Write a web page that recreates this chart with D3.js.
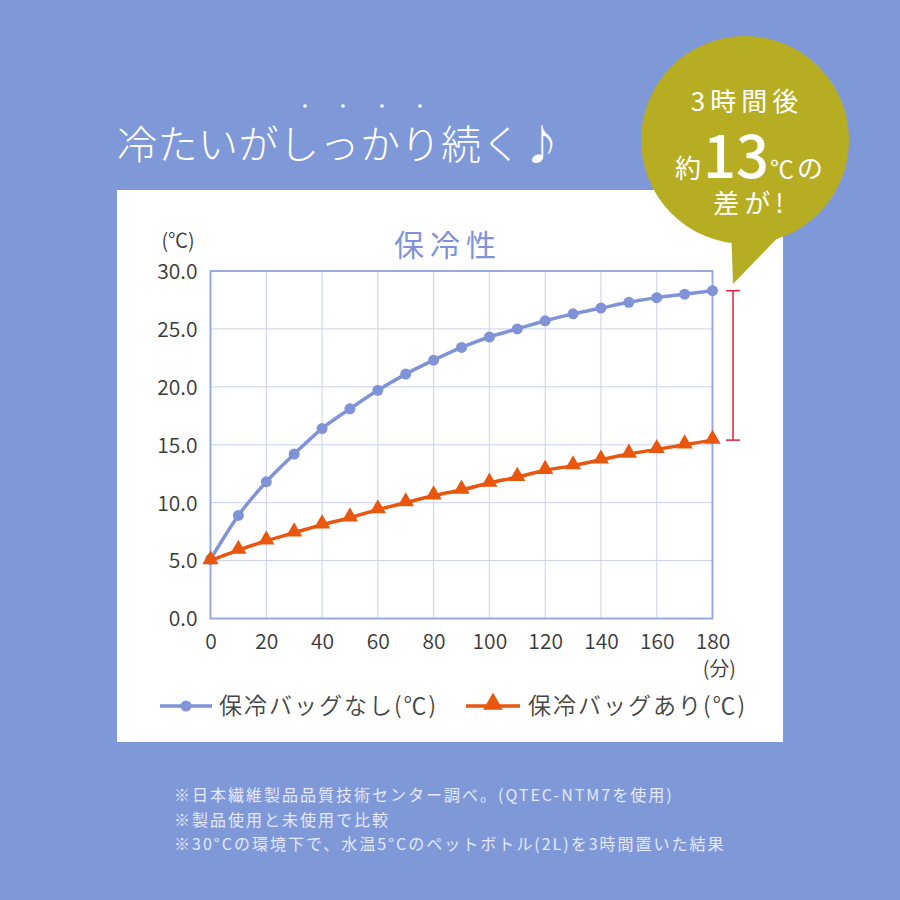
<!DOCTYPE html>
<html><head><meta charset="utf-8">
<script src="https://cdn.jsdelivr.net/npm/d3@7"></script>
<style>
html,body{margin:0;padding:0;background:#7f98d8;}
svg{display:block;}
text{font-family:"Noto Sans CJK JP","Noto Sans",sans-serif;}
</style></head>
<body>
<svg id="c" width="900" height="900"></svg>
<script>
const minutes = [0,10,20,30,40,50,60,70,80,90,100,110,120,130,140,150,160,170,180];
const noBag = [5.1,8.9,11.8,14.2,16.4,18.1,19.7,21.1,22.3,23.4,24.3,25.0,25.7,26.3,26.8,27.3,27.7,28.0,28.3];
const withBag = [5.0,5.9,6.7,7.4,8.1,8.7,9.4,10.0,10.6,11.1,11.7,12.2,12.8,13.2,13.7,14.2,14.6,15.0,15.4];
const xTicks = [0,20,40,60,80,100,120,140,160,180];
const yTicks = [0,5,10,15,20,25,30];
const seriesNames = ["保冷バッグなし(℃)","保冷バッグあり(℃)"];
const notes = ["※日本繊維製品品質技術センター調べ。(QTEC-NTM7を使用)","※製品使用と未使用で比較","※30°Cの環境下で、水温5°Cのペットボトル(2L)を3時間置いた結果"];

const svg = d3.select("#c");
const bg = "#7f98d8", blue = "#7f93d6", orange = "#e9560e", grid = "#c9d1ef", frame = "#98a8e0";

svg.append("rect").attr("width",900).attr("height",900).attr("fill",bg);

svg.append("text").attr("x",117).attr("y",159).attr("fill","#fff").attr("font-size",40)
  .attr("font-weight",300).attr("letter-spacing",0.5).text("冷たいがしっかり続く♪");
[305,343,382,420].forEach(x=>svg.append("circle").attr("cx",x).attr("cy",106).attr("r",1.8).attr("fill","#fff"));

svg.append("rect").attr("x",117).attr("y",190).attr("width",666).attr("height",552).attr("fill","#fff");

const x = d3.scaleLinear().domain([0,180]).range([210.5,712.5]);
const y = d3.scaleLinear().domain([0,30]).range([618.5,271]);

const g = svg.append("g");
g.selectAll(".gx").data(xTicks.slice(1,-1)).join("line")
  .attr("x1",d=>x(d)).attr("x2",d=>x(d)).attr("y1",y(30)).attr("y2",y(0))
  .attr("stroke",grid).attr("stroke-width",1);
g.selectAll(".gy").data(yTicks.slice(1,-1)).join("line")
  .attr("y1",d=>y(d)).attr("y2",d=>y(d)).attr("x1",x(0)).attr("x2",x(180))
  .attr("stroke",grid).attr("stroke-width",1);
g.append("rect").attr("x",x(0)).attr("y",y(30)).attr("width",x(180)-x(0)).attr("height",y(0)-y(30))
  .attr("fill","none").attr("stroke",frame).attr("stroke-width",2);

const yAxis = svg.append("g").attr("transform",`translate(${x(0)-13},0)`)
  .call(d3.axisLeft(y).tickValues(yTicks).tickFormat(d3.format(".1f")).tickSize(0));
yAxis.select(".domain").remove();
yAxis.selectAll("text").attr("font-size",21).attr("fill","#3a3a3a").attr("dy","0.35em").attr("x",0)
  .style("font-family","'Noto Sans CJK JP',sans-serif").attr("font-weight",350);
const xAxis = svg.append("g").attr("transform",`translate(0,${y(0)+13})`)
  .call(d3.axisBottom(x).tickValues(xTicks).tickSize(0));
xAxis.select(".domain").remove();
xAxis.selectAll("text").attr("font-size",21).attr("fill","#3a3a3a").attr("dy","0.71em")
  .style("font-family","'Noto Sans CJK JP',sans-serif").attr("font-weight",350);

svg.append("text").attr("x",178).attr("y",248).attr("text-anchor","middle").attr("font-size",20).attr("fill","#3a3a3a").attr("font-weight",350).text("(℃)");
svg.append("text").attr("x",736).attr("y",676).attr("text-anchor","end").attr("font-size",20).attr("fill","#3a3a3a").attr("font-weight",350).text("(分)");
svg.append("text").attr("x",448).attr("y",256).attr("text-anchor","middle").attr("font-size",30).attr("fill",blue).attr("letter-spacing",6).text("保冷性");

const line = d3.line().x((d,i)=>x(minutes[i])).y(d=>y(d)).curve(d3.curveMonotoneX);
svg.append("path").attr("d",line(noBag)).attr("fill","none").attr("stroke",blue).attr("stroke-width",3.5);
svg.selectAll(".pb").data(noBag).join("circle").attr("cx",(d,i)=>x(minutes[i])).attr("cy",d=>y(d)).attr("r",5.5).attr("fill",blue);
svg.append("path").attr("d",line(withBag)).attr("fill","none").attr("stroke",orange).attr("stroke-width",3.5);
const tri = d3.symbol().type(d3.symbolTriangle).size(115);
svg.selectAll(".pt").data(withBag).join("path").attr("d",tri)
  .attr("transform",(d,i)=>`translate(${x(minutes[i])},${y(d)-1})`).attr("fill",orange);

const bx = 733;
const yTop = y(noBag[noBag.length-1]), yBot = y(withBag[withBag.length-1]);
svg.append("line").attr("x1",bx).attr("x2",bx).attr("y1",yTop).attr("y2",yBot).attr("stroke","#e0203a").attr("stroke-width",1.5);
[yTop,yBot].forEach(v=>svg.append("line").attr("x1",bx-7).attr("x2",bx+7).attr("y1",v).attr("y2",v).attr("stroke","#e0203a").attr("stroke-width",1.5));

const ly = 706;
svg.append("line").attr("x1",160).attr("x2",212).attr("y1",ly).attr("y2",ly).attr("stroke",blue).attr("stroke-width",3.5);
svg.append("circle").attr("cx",186).attr("cy",ly).attr("r",5.5).attr("fill",blue);
svg.append("text").attr("x",219).attr("y",ly+8).attr("font-size",23).attr("fill","#444").attr("font-weight",350).attr("letter-spacing",2).text(seriesNames[0]);
svg.append("line").attr("x1",466).attr("x2",520).attr("y1",ly).attr("y2",ly).attr("stroke",orange).attr("stroke-width",3.5);
svg.append("path").attr("d",d3.symbol().type(d3.symbolTriangle).size(170)).attr("transform",`translate(493,${ly-2})`).attr("fill",orange);
svg.append("text").attr("x",528).attr("y",ly+8).attr("font-size",23).attr("fill","#444").attr("font-weight",350).attr("letter-spacing",2).text(seriesNames[1]);

notes.forEach((t,i)=>svg.append("text").attr("x",174).attr("y",801+i*24.5).attr("font-size",16).attr("fill","#e4e9f8").attr("letter-spacing",2).text(t));

const bub = "#b6ad22";
svg.append("path").attr("d","M731,225 L790,225 L733,284 Z").attr("fill",bub);
svg.append("circle").attr("cx",745).attr("cy",140).attr("r",104).attr("fill",bub);
svg.append("text").attr("x",747).attr("y",111).attr("text-anchor","middle").attr("font-size",26).attr("fill","#fff").attr("letter-spacing",5).text("3時間後");
const t2 = svg.append("text").attr("x",749).attr("y",178).attr("text-anchor","middle").attr("fill","#fff");
t2.append("tspan").attr("font-size",26).text("約");
t2.append("tspan").attr("font-size",58).attr("font-weight",500).attr("dx",2).text("13");
t2.append("tspan").attr("font-size",24).attr("dx",1).text("℃");
t2.append("tspan").attr("font-size",26).attr("dx",3).text("の");
svg.append("text").attr("x",751).attr("y",213).attr("text-anchor","middle").attr("font-size",26).attr("fill","#fff").attr("letter-spacing",5).text("差が!");
</script>
</body></html>
